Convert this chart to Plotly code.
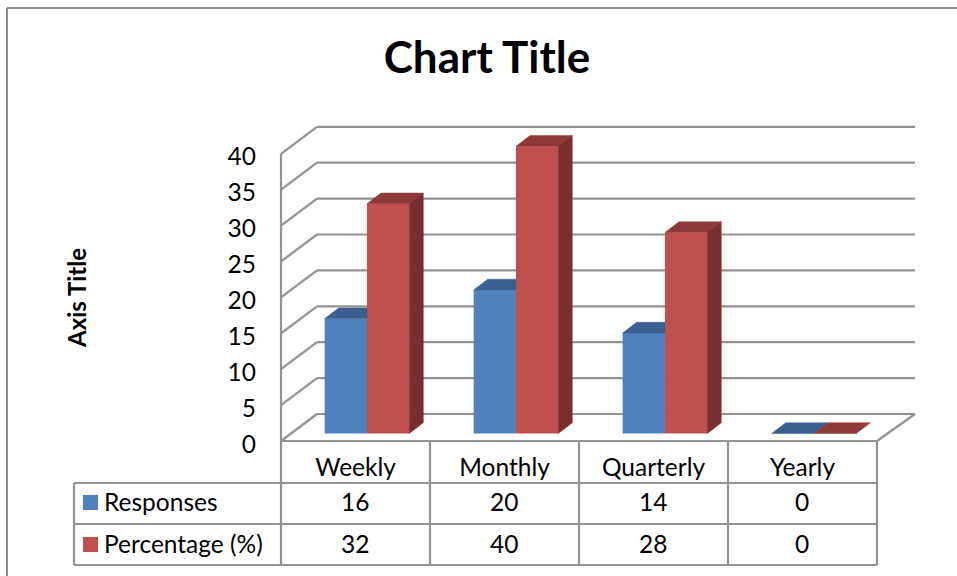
import plotly.graph_objects as go

# ---- data ----
categories = ["Weekly", "Monthly", "Quarterly", "Yearly"]
responses = [16, 20, 14, 0]
percentage = [32, 40, 28, 0]
series_names = ["Responses", "Percentage (%)"]
y_ticks = [0, 5, 10, 15, 20, 25, 30, 35, 40]

# ---- layout helpers (pixel geometry of the 3-D look) ----
W, H = 957, 576
X0, CAT_W = 281, 149        # wall front-left x, width of a category
Y0, UNIT = 441, 7.18        # wall front floor y, pixels per value unit
PL, PR, PT, PB = 275, 921, 120, 447


def u(p):
    return (p - X0) / CAT_W


def v(p):
    return (Y0 - p) / UNIT


def py(p):
    return (PB - p) / (PB - PT)


def paper_x(p):
    return (p - PL) / (PR - PL)


WALL_DX, WALL_DY = 36 / CAT_W, 27 / UNIT
BAR_DX, BAR_DY = 14 / CAT_W, 10.7 / UNIT
FLOOR = 7.5 / UNIT
BAR_W = 42.3 / CAT_W
CENTER = 0.577
RIGHT = 4

GRID = "#939393"
BLUE, BLUE_TOP, BLUE_SIDE = "#4f81bd", "#3b608f", "#2f4d72"
RED, RED_TOP, RED_SIDE = "#c0504d", "#8f3a38", "#7a2f2e"
FONT = "Lato"
TXT = "#000000"

fig = go.Figure()
xpos = [i + CENTER for i in range(len(categories))]

# front faces
for name, vals, col, sign in [(series_names[0], responses, BLUE, -1),
                              (series_names[1], percentage, RED, 1)]:
    fig.add_trace(go.Bar(
        name=name, x=[c + sign * BAR_W / 2 for c in xpos], y=vals,
        base=[FLOOR] * len(vals), width=BAR_W, marker=dict(color=col, line=dict(width=0)),
        showlegend=False))


def poly(xs, ys, col):
    fig.add_trace(go.Scatter(x=xs + xs[:1], y=ys + ys[:1], mode="lines", fill="toself",
                             fillcolor=col, line=dict(color=col, width=0.5),
                             hoverinfo="skip", showlegend=False))


# top and side faces, derived from the values
for c, b, r in zip(xpos, responses, percentage):
    bt, rt = b + FLOOR, r + FLOOR
    xl, xm, xr = c - BAR_W, c, c + BAR_W
    if r > b:  # the taller red column hides the right part of the blue top
        poly([xl, xm, xm, xl + BAR_DX], [bt, bt, bt + BAR_DY, bt + BAR_DY], BLUE_TOP)
    else:
        poly([xl, xm, xm + BAR_DX, xl + BAR_DX], [bt, bt, bt + BAR_DY, bt + BAR_DY], BLUE_TOP)
    poly([xm, xr, xr + BAR_DX, xm + BAR_DX], [rt, rt, rt + BAR_DY, rt + BAR_DY], RED_TOP)
    if r > 0:
        poly([xr, xr + BAR_DX, xr + BAR_DX, xr], [FLOOR, FLOOR + BAR_DY, rt + BAR_DY, rt], RED_SIDE)

shapes = []
gl = dict(color=GRID, width=2.2)


def seg(x0, y0, x1, y1):
    shapes.append(dict(type="line", xref="x", yref="y", x0=x0, y0=y0, x1=x1, y1=y1,
                       line=gl, layer="below"))


# walls and gridlines
seg(0, 0, 0, y_ticks[-1])
for t in y_ticks:
    seg(0, t, WALL_DX, t + WALL_DY)
    seg(WALL_DX, t + WALL_DY, RIGHT + 38 / CAT_W, t + WALL_DY)
seg(RIGHT + 38 / CAT_W, WALL_DY, RIGHT, 0)
seg(0, 0, RIGHT, 0)


# table rules
def tline(x0, y0, x1, y1):
    shapes.append(dict(type="line", xref="paper", yref="paper",
                       x0=paper_x(x0), x1=paper_x(x1), y0=py(y0), y1=py(y1), line=gl))


ROWS = [483, 524, 565]
for yy in ROWS:
    tline(74, yy, 877, yy)
tline(74, 483, 74, 565)
for i in range(len(categories) + 1):
    xx = X0 + i * CAT_W
    tline(xx, 441, xx, 565)

# outer frame
frame = dict(color="#8c8c8c", width=2)
shapes.append(dict(type="line", xref="paper", yref="paper", x0=paper_x(7), x1=paper_x(957),
                   y0=py(8), y1=py(8), line=frame))
shapes.append(dict(type="line", xref="paper", yref="paper", x0=paper_x(7), x1=paper_x(7),
                   y0=py(8), y1=py(576), line=frame))

# legend keys
for (top, col) in [(495, BLUE), (537, RED)]:
    shapes.append(dict(type="rect", xref="paper", yref="paper", x0=paper_x(83), x1=paper_x(98),
                       y0=py(top), y1=py(top + 15), fillcolor=col, line=dict(width=0)))

annotations = []
cell = dict(family=FONT, size=24.5, color=TXT)
row_y = [501.5, 543.5]
for name, vals, yy in zip(series_names, [responses, percentage], row_y):
    annotations.append(dict(text=name, xref="paper", yref="paper", x=paper_x(102), y=py(yy),
                            xanchor="left", yanchor="middle", showarrow=False, font=cell))
    for i, val in enumerate(vals):
        annotations.append(dict(text=str(val), xref="paper", yref="paper",
                                x=paper_x(X0 + (i + 0.5) * CAT_W - 1), y=py(yy),
                                xanchor="center", yanchor="middle", showarrow=False, font=cell))

annotations.append(dict(text="Axis Title", xref="paper", yref="paper", x=paper_x(76), y=py(298),
                        xanchor="center", yanchor="middle", textangle=-90, showarrow=False,
                        font=dict(family=FONT, size=24, color=TXT, weight="bold")))

fig.update_layout(
    width=W, height=H, autosize=False,
    margin=dict(l=PL, r=W - PR, t=PT, b=H - PB, pad=0),
    paper_bgcolor="white", plot_bgcolor="white",
    barmode="overlay", showlegend=False,
    title=dict(text="Chart Title", x=487 / W, y=1 - 58 / H, xanchor="center", yanchor="middle",
               xref="container",
               font=dict(family=FONT, size=44, color=TXT, weight="bold")),
    xaxis=dict(range=[u(PL), u(PR)], tickmode="array",
               tickvals=[i + 0.5 for i in range(len(categories))], ticktext=categories,
               showgrid=False, zeroline=False, showline=False, ticks="", ticklabelstandoff=3,
               tickfont=cell),
    yaxis=dict(range=[v(PB), v(PT)], tickmode="array", tickvals=y_ticks,
               showgrid=False, zeroline=False, showline=False, ticks="", ticklabelstandoff=18,
               ticklabelshift=3, tickfont=cell),
    shapes=shapes, annotations=annotations,
)

fig.write_html("out.html", config=dict(displayModeBar=False),
               post_script="document.body.style.margin='0';")
